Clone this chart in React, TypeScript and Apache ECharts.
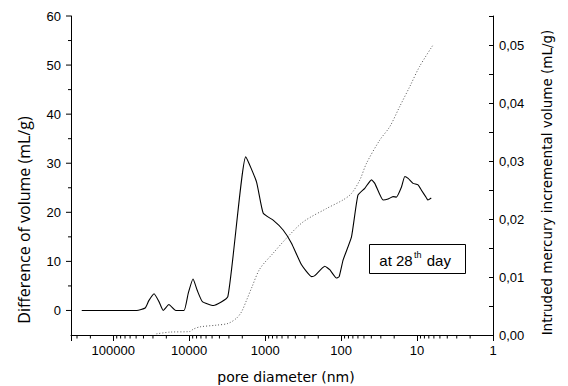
import React, { useEffect, useRef } from "react";
import * as echarts from "echarts";

// Pore diameter (nm) and difference of volume (mL/g) — solid curve
const poreDiameter = [260000, 49000, 38000, 34000, 29000, 25000, 22000, 18500, 15000, 11700, 10300, 8900, 7800, 6700, 4800, 3100, 1800, 1300, 1060, 785, 580, 450, 332, 245, 222, 164, 141, 115, 106, 94, 73, 60, 48.8, 39.8, 36, 28, 24.1, 20.7, 18.7, 16.0, 14.5, 13.1, 11.3, 9.7, 8.75, 7.5, 7.2, 6.5];
const diffVolume = [0, 0, 0.5, 2.0, 3.4, 1.8, 0, 1.2, 0, 0, 3.5, 6.4, 4.0, 1.8, 1.0, 2.8, 31.3, 26.2, 19.8, 18.4, 16.4, 13.7, 9.3, 6.9, 7.1, 9.0, 8.3, 6.6, 6.9, 10.3, 15.0, 23.5, 24.9, 26.6, 25.9, 22.5, 22.7, 23.2, 23.1, 25.2, 27.3, 26.9, 25.9, 25.6, 24.5, 22.9, 22.5, 22.9];

// Intruded mercury incremental volume (mL/g) — dotted curve
const intrudedDiameter = [27000, 18000, 9800, 8860, 7230, 4360, 3070, 2380, 2045, 1757, 1510, 1175, 785, 523, 316, 156, 94, 73, 56.8, 46.3, 31, 22.9, 16.9, 12.5, 9.25, 6.16];
const intrudedVolume = [0.0002, 0.0005, 0.0006, 0.0010, 0.0014, 0.0017, 0.0020, 0.0029, 0.0040, 0.0060, 0.0081, 0.0114, 0.0141, 0.0167, 0.0195, 0.0218, 0.0233, 0.0244, 0.0267, 0.0296, 0.0336, 0.0359, 0.0394, 0.0428, 0.0463, 0.0500];

// Axis ticks
const xMaxDiameter = 360000;
const xDecades = [1, 10, 100, 1000, 10000, 100000];
const minorMultipliers = [2, 3, 4, 5, 6, 7, 8, 9];
const leftMin = -5;
const leftMax = 60;
const leftMajorTicks = [0, 10, 20, 30, 40, 50, 60];
const leftMinorTicks = [5, 15, 25, 35, 45, 55];
const rightMax = 0.055;

const X_MAX_L = Math.log10(xMaxDiameter);

export default function App() {
  const ref = useRef<HTMLDivElement>(null);
  useEffect(() => {
    if (!ref.current) return;
    const chart = echarts.init(ref.current, undefined, { renderer: "svg" });

    const xMinor: number[] = [];
    xDecades.forEach((d) =>
      minorMultipliers.forEach((m) => {
        const L = Math.log10(d * m);
        if (L <= X_MAX_L) xMinor.push(L);
      })
    );
    const tickData: number[][] = [
      ...xMinor.map((L) => [L, leftMin, 0, 3.5]),
      ...leftMajorTicks.map((v) => [X_MAX_L, v, 1, 5]),
      ...leftMinorTicks.map((v) => [X_MAX_L, v, 1, 3]),
    ];

    const tickFont = { fontFamily: "Liberation Sans", fontSize: 13, color: "#000" };

    chart.setOption({
      animation: false,
      backgroundColor: "#fff",
      grid: { left: 71, right: 75, top: 16, bottom: 51, containLabel: false },
      xAxis: {
        type: "value",
        inverse: true,
        min: 0,
        max: X_MAX_L,
        interval: 1,
        axisLine: { show: true, onZero: false, lineStyle: { color: "#000", width: 1 } },
        axisTick: { show: true, length: 6, lineStyle: { color: "#000" } },
        splitLine: { show: false },
        axisLabel: {
          ...tickFont,
          margin: 9,
          formatter: (v: number) =>
            Math.abs(v - Math.round(v)) < 1e-6 ? String(Math.pow(10, Math.round(v))) : "",
        },
      },
      yAxis: [
        {
          type: "value",
          position: "left",
          min: leftMin,
          max: leftMax,
          interval: 5,
          axisLine: { show: true, onZero: false, lineStyle: { color: "#000", width: 1 } },
          axisTick: { show: false },
          splitLine: { show: false },
          axisLabel: {
            ...tickFont,
            margin: 10,
            formatter: (v: number) =>
              v >= 0 && Math.abs(v / 10 - Math.round(v / 10)) < 1e-6 ? String(v) : "",
          },
        },
        {
          type: "value",
          position: "right",
          min: 0,
          max: rightMax,
          interval: 0.005,
          axisLine: { show: true, onZero: false, lineStyle: { color: "#000", width: 1 } },
          axisTick: { show: true, inside: true, length: 4, lineStyle: { color: "#000" } },
          splitLine: { show: false },
          axisLabel: {
            ...tickFont,
            margin: 6,
            formatter: (v: number) =>
              Math.abs(v * 100 - Math.round(v * 100)) < 1e-6
                ? v.toFixed(2).replace(".", ",")
                : "",
          },
        },
      ],
      series: [
        {
          type: "line",
          xAxisIndex: 0,
          yAxisIndex: 0,
          data: poreDiameter.map((d, i) => [Math.log10(d), diffVolume[i]]),
          showSymbol: false,
          smooth: 0.15,
          lineStyle: { color: "#000", width: 1.1 },
          z: 3,
        },
        {
          type: "line",
          xAxisIndex: 0,
          yAxisIndex: 1,
          data: intrudedDiameter.map((d, i) => [Math.log10(d), intrudedVolume[i]]),
          showSymbol: false,
          smooth: 0.3,
          lineStyle: { color: "#555", width: 1, type: [1, 2] },
          z: 2,
        },
        {
          type: "custom",
          xAxisIndex: 0,
          yAxisIndex: 0,
          silent: true,
          clip: false,
          data: tickData,
          renderItem: (_params: any, api: any) => {
            const p = api.coord([api.value(0), api.value(1)]);
            const kind = api.value(2);
            const len = api.value(3);
            const shape =
              kind === 0
                ? { x1: p[0], y1: p[1], x2: p[0], y2: p[1] + len }
                : { x1: p[0] - len, y1: p[1], x2: p[0], y2: p[1] };
            return { type: "line", shape, style: { stroke: "#000", lineWidth: 1 } };
          },
        },
      ],
      graphic: [
        {
          type: "text",
          x: 23.5,
          y: 220,
          rotation: Math.PI / 2,
          style: {
            text: "Difference of volume (mL/g)",
            font: '16px "Open Sans"',
            fill: "#000",
            align: "center",
            verticalAlign: "middle",
            textAlign: "center",
            textVerticalAlign: "middle",
          },
        },
        {
          type: "text",
          x: 547,
          y: 182.5,
          rotation: Math.PI / 2,
          style: {
            text: "Intruded mercury incremental volume (mL/g)",
            font: '13.5px "DejaVu Sans"',
            fill: "#000",
            align: "center",
            verticalAlign: "middle",
            textAlign: "center",
            textVerticalAlign: "middle",
          },
        },
        {
          type: "text",
          x: 286,
          y: 377,
          style: {
            text: "pore diameter (nm)",
            font: '14px "DejaVu Sans"',
            fill: "#000",
            align: "center",
            verticalAlign: "middle",
            textAlign: "center",
            textVerticalAlign: "middle",
          },
        },
        {
          type: "group",
          children: [
            {
              type: "rect",
              shape: { x: 369.5, y: 244.5, width: 96, height: 29 },
              style: { fill: "#fff", stroke: "#000", lineWidth: 1 },
            },
            {
              type: "text",
              x: 379.3,
              y: 260,
              style: {
                text: "at 28",
                font: '15px "Liberation Sans"',
                fill: "#000",
                align: "left",
                verticalAlign: "middle",
                textAlign: "left",
                textVerticalAlign: "middle",
              },
            },
            {
              type: "text",
              x: 414,
              y: 254.5,
              style: {
                text: "th",
                font: '9px "Liberation Sans"',
                fill: "#000",
                align: "left",
                verticalAlign: "middle",
                textAlign: "left",
                textVerticalAlign: "middle",
              },
            },
            {
              type: "text",
              x: 426.7,
              y: 260,
              style: {
                text: "day",
                font: '15px "Liberation Sans"',
                fill: "#000",
                align: "left",
                verticalAlign: "middle",
                textAlign: "left",
                textVerticalAlign: "middle",
              },
            },
          ],
        },
      ],
    });
    return () => chart.dispose();
  }, []);
  return (
    <div
      ref={ref}
      style={{ position: "fixed", left: 0, top: 0, width: 568, height: 386, background: "#fff" }}
    />
  );
}
